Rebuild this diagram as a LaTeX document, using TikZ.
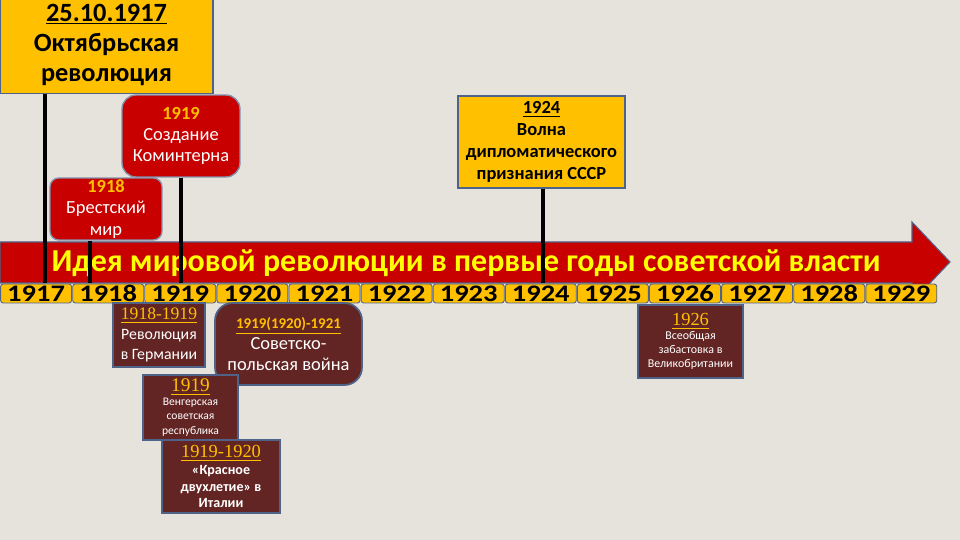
\documentclass[tikz,border=0pt]{standalone}
\usepackage{fontspec}
\setmainfont{Carlito}
\newfontfamily\yearserif{Liberation Serif}
\newfontfamily\widesans[FakeStretch=1.2]{Carlito}
\usetikzlibrary{positioning,calc}
\definecolor{bgpaper}{HTML}{E6E3DC}
\definecolor{gold}{HTML}{FFC000}
\definecolor{redbox}{HTML}{C80000}
\definecolor{maroon}{HTML}{632523}
\definecolor{edgeblue}{HTML}{4F6288}
\definecolor{ideayellow}{HTML}{FFFF00}
\newcommand{\fs}[2]{\fontsize{#1}{#2}\selectfont}
\newcommand{\yearmark}[2]{{\yearserif\mdseries\fontsize{#1}{#1}\selectfont\color{gold}\underline{#2}}}

\begin{document}
\begin{tikzpicture}[x=0.02cm, y=-0.02cm,
	goldbox/.style = {draw=edgeblue, line width=0.8pt, fill=gold,
	align=center, inner sep=0pt},
	redevent/.style = {draw=edgeblue!70, line width=0.8pt, fill=redbox,
	rounded corners=5pt, text=white, align=center, inner sep=0pt},
	darkevent/.style = {draw=edgeblue, line width=1pt, fill=maroon,
	text=white, align=center, inner sep=0pt},
	yearcell/.style = {draw=edgeblue, line width=0.5pt, fill=gold,
	rounded corners=1.5pt, minimum width=1.42cm, minimum height=0.38cm,
	inner sep=0pt, font=\widesans\fs{13.5}{13.5}\bfseries},
	stem/.style = {line width=2.6pt, black}
]
\fill[bgpaper] (0,0) rectangle (960,540);
\useasboundingbox (0,0) rectangle (960,540);

% the time arrow
\filldraw[fill=redbox, draw=edgeblue, line width=0.6pt]
	(0,242) -- (912,242) -- (912,222) -- (950,262) -- (912,302) -- (912,283) -- (0,283) -- cycle;
\foreach \yr [count=\i from 0] in {1917,...,1929}
	\node[yearcell] (y\yr) at (36.1+72.1*\i,293.5) {\yr};

% events above
\node[goldbox, minimum width=4.26cm, minimum height=1.94cm, font=\fs{15}{17.3}\bfseries]
	(oct) at (106.5,45) {\underline{25.10.1917}\\Октябрьская\\революция};
\node[redevent, rounded corners=8pt, minimum width=2.36cm, minimum height=1.64cm, font=\fs{10.5}{12.2}]
	(kom) at (181,136) {{\color{gold}\bfseries 1919}\\Создание\\Коминтерна};
\node[redevent, minimum width=2.24cm, minimum height=1.24cm, font=\fs{10.5}{12.2}]
	(brest) at (106,209) {{\color{gold}\bfseries 1918}\\Брестский\\мир};
\node[goldbox, minimum width=3.34cm, minimum height=1.84cm, font=\fs{10.5}{12.5}\bfseries]
	(dipl) at (541.5,142) {\underline{1924}\\Волна\\дипломатического\\признания СССР};

% events below
\node[darkevent, minimum width=1.84cm, minimum height=1.28cm, font=\fs{9}{11.3}]
	(ger) at (159,335) {\yearmark{10}{1918-1919}\\Революция\\в Германии};
\node[darkevent, rounded corners=10pt, minimum width=2.94cm, minimum height=1.64cm, font=\fs{10.5}{12}]
	(pol) at (288.5,344) {{\fs{8.5}{8.5}\bfseries\color{gold}\underline{1919(1920)-1921}}\\Советско-\\польская война};
\node[darkevent, minimum width=1.9cm, minimum height=1.3cm, font=\fs{6.6}{8}]
	(hun) at (190.5,407.5) {\yearmark{11}{1919}\\Венгерская\\советская\\республика};
\node[darkevent, minimum width=2.36cm, minimum height=1.46cm, font=\fs{8}{9.6}\bfseries]
	(ita) at (221,476.5) {\yearmark{10.5}{1919-1920}\\«Красное\\двухлетие» в\\Италии};
\node[darkevent, minimum width=2.1cm, minimum height=1.46cm, font=\fs{6.8}{8}]
	(gb) at (690.5,341.5) {\yearmark{10.5}{1926}\\Всеобщая\\забастовка в\\Великобритании};

\node[font=\fs{18.2}{20}\bfseries, text=ideayellow]
	(idea) at (466,263) {Идея мировой революции в первые годы советской власти};

% stems down to the years
\coordinate (foot1917) at (45,283);
\coordinate (foot1918) at (90,283);
\coordinate (foot1919) at (181,283);
\coordinate (foot1924) at (543,283);
\draw[stem] (foot1917 |- oct.south) -- (foot1917);
\draw[stem] (foot1918 |- brest.south) -- (foot1918);
\draw[stem] (foot1919 |- kom.south) -- (foot1919);
\draw[stem] (foot1924 |- dipl.south) -- (foot1924);
\end{tikzpicture}
\end{document}
